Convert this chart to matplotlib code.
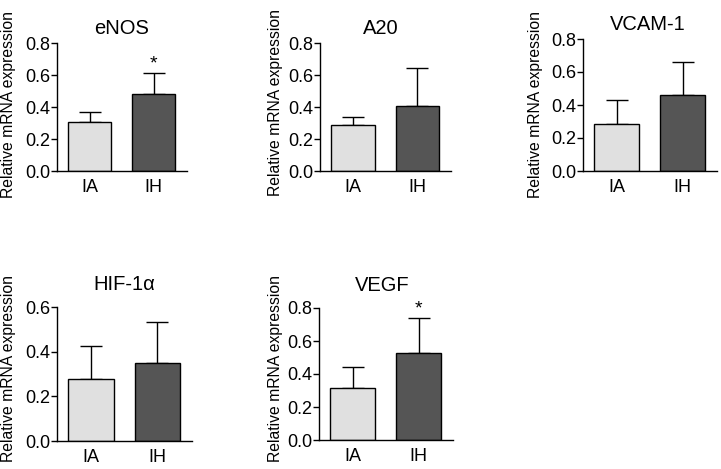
import matplotlib
matplotlib.use("Agg")
import matplotlib.pyplot as plt

plt.rcParams['font.family'] = ['Liberation Sans', 'DejaVu Sans']

groups = ["IA", "IH"]
genes = ["eNOS", "A20", "VCAM-1", "HIF-1\u03b1", "VEGF"]
means = {
    "eNOS": [0.305, 0.48],
    "A20": [0.29, 0.405],
    "VCAM-1": [0.285, 0.46],
    "HIF-1\u03b1": [0.278, 0.35],
    "VEGF": [0.315, 0.527],
}
errs = {
    "eNOS": [0.065, 0.13],
    "A20": [0.045, 0.24],
    "VCAM-1": [0.145, 0.20],
    "HIF-1\u03b1": [0.148, 0.183],
    "VEGF": [0.125, 0.213],
}
ytops = {"eNOS": 0.8, "A20": 0.8, "VCAM-1": 0.8, "HIF-1\u03b1": 0.6, "VEGF": 0.8}
yticks = {
    "eNOS": [0.0, 0.2, 0.4, 0.6, 0.8],
    "A20": [0.0, 0.2, 0.4, 0.6, 0.8],
    "VCAM-1": [0.0, 0.2, 0.4, 0.6, 0.8],
    "HIF-1\u03b1": [0.0, 0.2, 0.4, 0.6],
    "VEGF": [0.0, 0.2, 0.4, 0.6, 0.8],
}
stars = {"eNOS": [False, True], "A20": [False, False], "VCAM-1": [False, False],
         "HIF-1\u03b1": [False, False], "VEGF": [False, True]}
colors = ["#e0e0e0", "#555555"]

W, H = 721, 469
# pixel layout: left, right, top, bottom, ylabel right-edge x, ylabel center y,
# title center x, title baseline y
boxes = {
    "eNOS": (57, 187, 43, 171, 16, 104, 122, 34),
    "A20": (320, 451, 43, 171, 283, 103, 381, 34),
    "VCAM-1": (583, 717, 39, 171, 543, 105, 648, 30),
    "HIF-1\u03b1": (57, 192, 307, 441, 16, 368, 124, 290),
    "VEGF": (319, 453, 308, 440, 283, 369, 382, 291),
}

fig = plt.figure(figsize=(W / 100, H / 100), dpi=100)
for g in genes:
    l, r, t, b, lx, ly, tx, ty = boxes[g]
    ax = fig.add_axes([l / W, 1 - b / H, (r - l) / W, (b - t) / H])
    x = [0, 1]
    ax.bar(x, means[g], width=0.68, color=colors, edgecolor="black", linewidth=1.0, zorder=2)
    ax.errorbar(x, means[g], yerr=[[0, 0], errs[g]], fmt="none", ecolor="black",
                elinewidth=1.0, capsize=8, capthick=1.0, zorder=1)
    for i in range(2):
        if stars[g][i]:
            ax.text(x[i], means[g][i] + errs[g][i] + 0.005, "*", ha="center", va="bottom",
                    fontsize=14)
    ax.set_xlim(-0.51, 1.52)
    ax.set_ylim(0, ytops[g])
    ax.set_yticks(yticks[g])
    ax.set_yticklabels([f"{v:.1f}" for v in yticks[g]], fontsize=13)
    ax.set_xticks(x)
    ax.set_xticklabels(groups, fontsize=13)
    ax.tick_params(axis="x", length=0, pad=6)
    ax.tick_params(axis="y", length=4, width=1, pad=1)
    for s in ["top", "right"]:
        ax.spines[s].set_visible(False)
    for s in ["left", "bottom"]:
        ax.spines[s].set_linewidth(1.0)
    ax.set_ylabel("Relative mRNA expression", fontsize=11.3)
    ax.yaxis.set_label_coords((lx - l) / (r - l), (b - ly) / (b - t))
    ax.set_title(g, fontsize=14.5, pad=0,
                 x=(tx - l) / (r - l), y=(b - ty) / (b - t))

fig.savefig("out.png", dpi=100)
